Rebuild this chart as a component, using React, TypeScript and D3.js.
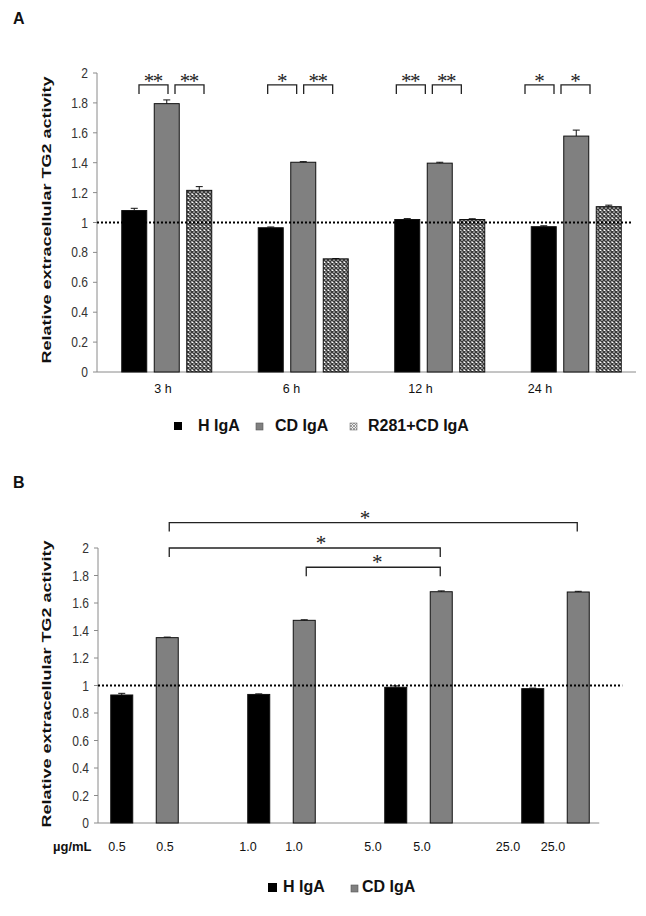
import React from "react";
import * as d3 from "d3";

// ---------- Panel A data ----------
const timeCategories = ["3 h", "6 h", "12 h", "24 h"];
const seriesA = ["H IgA", "CD IgA", "R281+CD IgA"];
const hIgA_A = [1.08, 0.965, 1.02, 0.972];
const hIgA_A_err = [0.015, 0.005, 0.006, 0.006];
const cdIgA_A = [1.795, 1.403, 1.397, 1.578];
const cdIgA_A_err = [0.025, 0.004, 0.006, 0.04];
const r281_A = [1.215, 0.757, 1.02, 1.106];
const r281_A_err = [0.025, 0.002, 0.005, 0.01];
const signifA = [
  ["**", "**"],
  ["*", "**"],
  ["**", "**"],
  ["*", "*"],
];

// ---------- Panel B data ----------
const concCategories = ["0.5", "1.0", "5.0", "25.0"];
const seriesB = ["H IgA", "CD IgA", ""];
const hIgA_B = [0.931, 0.935, 0.987, 0.977];
const hIgA_B_err = [0.012, 0.004, 0.01, 0.004];
const cdIgA_B = [1.348, 1.474, 1.682, 1.68];
const cdIgA_B_err = [0.004, 0.004, 0.006, 0.005];
const signifB = [
  { from: 0, to: 3, level: 2.185, label: "*", at: 0.48 },
  { from: 0, to: 2, level: 2.0, label: "*", at: 0.56 },
  { from: 1, to: 2, level: 1.86, label: "*", at: 0.53 },
];

const yTicks = [0, 0.2, 0.4, 0.6, 0.8, 1, 1.2, 1.4, 1.6, 1.8, 2];
const yTitle = "Relative extracellular TG2 activity";

const SANS = "'Liberation Sans', Arial, Helvetica, sans-serif";
const SERIF = "'Liberation Serif', 'Times New Roman', serif";
const fmt = d3.format("~g");

const fills: Record<string, string> = {
  "H IgA": "#000000",
  "CD IgA": "#808080",
  "R281+CD IgA": "url(#confetti)",
};

function YAxis({ y, x0, x1, titleY }: { y: d3.ScaleLinear<number, number>; x0: number; x1: number; titleY: number }) {
  const [r0, r1] = y.range();
  return (
    <g>
      <line x1={x0} x2={x0} y1={r0} y2={r1} stroke="#8a8a8a" strokeWidth={1} />
      <line x1={x0} x2={x1} y1={r0} y2={r0} stroke="#8a8a8a" strokeWidth={1} />
      {yTicks.map((t) => (
        <g key={t}>
          <line x1={x0 - 4} x2={x0} y1={y(t)} y2={y(t)} stroke="#8a8a8a" strokeWidth={1} />
          <text
            transform={`translate(${x0 - 9},${y(t) + 5}) scale(0.86,1)`}
            textAnchor="end"
            fontFamily={SANS}
            fontSize={14}
            fill="#333"
          >
            {fmt(t)}
          </text>
        </g>
      ))}
      <text
        transform={`translate(51,${titleY}) rotate(-90) scale(1,0.74)`}
        textAnchor="middle"
        fontFamily={SANS}
        fontWeight="bold"
        fontSize={18}
        fill="#111"
      >
        {yTitle}
      </text>
    </g>
  );
}

function Bar({ x, w, y0, y1, fill, err, yScale }: any) {
  const top = yScale(y1);
  const errTop = yScale(y1 + err);
  const cx = x + w / 2;
  return (
    <g>
      <rect x={x} y={top} width={w} height={y0 - top} fill={fill} stroke="#111" strokeWidth={1} />
      <line x1={cx} x2={cx} y1={top} y2={errTop} stroke="#111" strokeWidth={1} />
      <line x1={cx - 3.5} x2={cx + 3.5} y1={errTop} y2={errTop} stroke="#111" strokeWidth={1} />
    </g>
  );
}

function Stars({ x, y, label, spacing }: { x: number; y: number; label: string; spacing: number }) {
  const n = label.length;
  return (
    <g>
      {Array.from(label).map((ch, i) => (
        <text
          key={i}
          x={x + (i - (n - 1) / 2) * spacing}
          y={y}
          textAnchor="middle"
          fontFamily={SERIF}
          fontSize={21}
          fill="#222"
        >
          {ch}
        </text>
      ))}
    </g>
  );
}

function PanelA() {
  const y = d3.scaleLinear().domain([0, 2]).range([372, 73]);
  const x = d3.scaleBand<string>().domain(timeCategories).range([97, 643]).padding(0);
  const sub = d3
    .scaleBand<string>()
    .domain(seriesA)
    .range([21, 118.5])
    .paddingInner(0.2308)
    .paddingOuter(0.1154);
  const valuesA = [hIgA_A, cdIgA_A, r281_A];
  const errsA = [hIgA_A_err, cdIgA_A_err, r281_A_err];
  const ann = d3.scaleLinear().domain([0, 3]).range([139, 525]);
  const labelX = [163, 291.5, 420.5, 540];
  const bracketY = y(1.92);
  const drop = 9;
  const bw = 29;
  return (
    <g>
      <text x={13} y={24} fontFamily={SANS} fontWeight="bold" fontSize={16} fill="#111">A</text>
      <YAxis y={y} x0={97} x1={636} titleY={220} />
      {timeCategories.map((c, i) =>
        seriesA.map((s, j) => (
          <Bar
            key={c + s}
            x={(x(c) as number) + (sub(s) as number)}
            w={sub.bandwidth()}
            y0={y(0)}
            y1={valuesA[j][i]}
            err={errsA[j][i]}
            fill={fills[s]}
            yScale={y}
          />
        ))
      )}
      <line x1={97} x2={633} y1={y(1)} y2={y(1)} stroke="#000" strokeWidth={2.2} strokeDasharray="2,2" />
      {timeCategories.map((c, i) => (
        <text key={c} x={labelX[i]} y={393} textAnchor="middle" fontFamily={SANS} fontSize={12.5} fill="#111">
          {c}
        </text>
      ))}
      {signifA.map((pair, i) =>
        pair.map((lab, k) => {
          const s = ann(i) + k * 36;
          const e = s + bw;
          return (
            <g key={i + "-" + k}>
              <path
                d={`M${s},${bracketY + drop}V${bracketY}H${e}V${bracketY + drop}`}
                fill="none"
                stroke="#222"
                strokeWidth={1.3}
              />
              <Stars x={(s + e) / 2} y={bracketY + 3} label={lab} spacing={9} />
            </g>
          );
        })
      )}
      {/* legend */}
      <rect x={174} y={422} width={8} height={8} fill="#000" />
      <text x={198} y={431} fontFamily={SANS} fontWeight="bold" fontSize={16} fill="#111">{seriesA[0]}</text>
      <rect x={256} y={423} width={7} height={7} fill="#808080" stroke="#555" strokeWidth={0.6} />
      <text x={275} y={431} fontFamily={SANS} fontWeight="bold" fontSize={16} fill="#111">{seriesA[1]}</text>
      <rect x={350} y={423} width={7} height={7} fill="url(#confettiLight)" stroke="#777" strokeWidth={0.6} />
      <text x={368} y={431} fontFamily={SANS} fontWeight="bold" fontSize={16} fill="#111">{seriesA[2]}</text>
    </g>
  );
}

function PanelB() {
  const y = d3.scaleLinear().domain([0, 2]).range([823, 548]);
  const x = d3.scaleBand<string>().domain(concCategories).range([98, 646]).padding(0);
  const slots = ["H IgA", "CD IgA", "empty"];
  const sub = d3
    .scaleBand<string>()
    .domain(slots)
    .range([1, 137.5])
    .paddingInner(0.5165)
    .paddingOuter(0.258);
  const valuesB = [hIgA_B, cdIgA_B];
  const errsB = [hIgA_B_err, cdIgA_B_err];
  const cdCenter = (i: number) => (x(concCategories[i]) as number) + (sub("CD IgA") as number) + sub.bandwidth() / 2;
  const lastEnd = cdCenter(concCategories.length - 1) + sub.bandwidth() / 2;
  const label1 = [117, 248, 373, 508];
  const label2 = [165, 294, 422, 553];
  return (
    <g>
      <text x={13} y={488} fontFamily={SANS} fontWeight="bold" fontSize={16} fill="#111">B</text>
      <YAxis y={y} x0={98} x1={lastEnd + 10} titleY={684} />
      {concCategories.map((c, i) =>
        seriesB.slice(0, 2).map((s, j) => (
          <Bar
            key={c + s}
            x={(x(c) as number) + (sub(s) as number)}
            w={sub.bandwidth()}
            y0={y(0)}
            y1={valuesB[j][i]}
            err={errsB[j][i]}
            fill={fills[s]}
            yScale={y}
          />
        ))
      )}
      <line x1={98} x2={lastEnd + 33} y1={y(1)} y2={y(1)} stroke="#000" strokeWidth={2.2} strokeDasharray="2,2" />
      <text x={53} y={851} fontFamily={SANS} fontWeight="bold" fontSize={13} fill="#111">µg/mL</text>
      {concCategories.map((c, i) => (
        <g key={c}>
          <text x={label1[i]} y={851} textAnchor="middle" fontFamily={SANS} fontSize={12.5} fill="#111">{c}</text>
          <text x={label2[i]} y={851} textAnchor="middle" fontFamily={SANS} fontSize={12.5} fill="#111">{c}</text>
        </g>
      ))}
      {signifB.map((b, k) => {
        const s = cdCenter(b.from) + 2;
        const e = cdCenter(b.to) - 1;
        const by = y(b.level);
        return (
          <g key={k}>
            <path d={`M${s},${by + 9}V${by}H${e}V${by + 9}`} fill="none" stroke="#222" strokeWidth={1.3} />
            <Stars x={s + (e - s) * b.at} y={by + 2} label={b.label} spacing={9} />
          </g>
        );
      })}
      {/* legend */}
      <rect x={268} y={883} width={9} height={9} fill="#000" />
      <text x={283} y={892} fontFamily={SANS} fontWeight="bold" fontSize={16} fill="#111">{seriesB[0]}</text>
      <rect x={351} y={885} width={7} height={7} fill="#808080" stroke="#555" strokeWidth={0.6} />
      <text x={362} y={892} fontFamily={SANS} fontWeight="bold" fontSize={16} fill="#111">{seriesB[1]}</text>
    </g>
  );
}

export default function App() {
  return (
    <svg
      width={646}
      height={916}
      style={{ position: "absolute", left: 0, top: 0, background: "#fff", display: "block" }}
    >
      <defs>
        <pattern id="confetti" width={4} height={4} patternUnits="userSpaceOnUse">
          <rect width={4} height={4} fill="#fff" />
          <path d="M0,0L4,4M4,0L0,4" stroke="#3a3a3a" strokeWidth={1.5} />
        </pattern>
        <pattern id="confettiLight" width={3} height={3} patternUnits="userSpaceOnUse">
          <rect width={3} height={3} fill="#eee" />
          <path d="M0,0L3,3M3,0L0,3" stroke="#888" strokeWidth={0.8} />
        </pattern>
      </defs>
      <rect width={646} height={916} fill="#fff" />
      <PanelA />
      <PanelB />
    </svg>
  );
}
